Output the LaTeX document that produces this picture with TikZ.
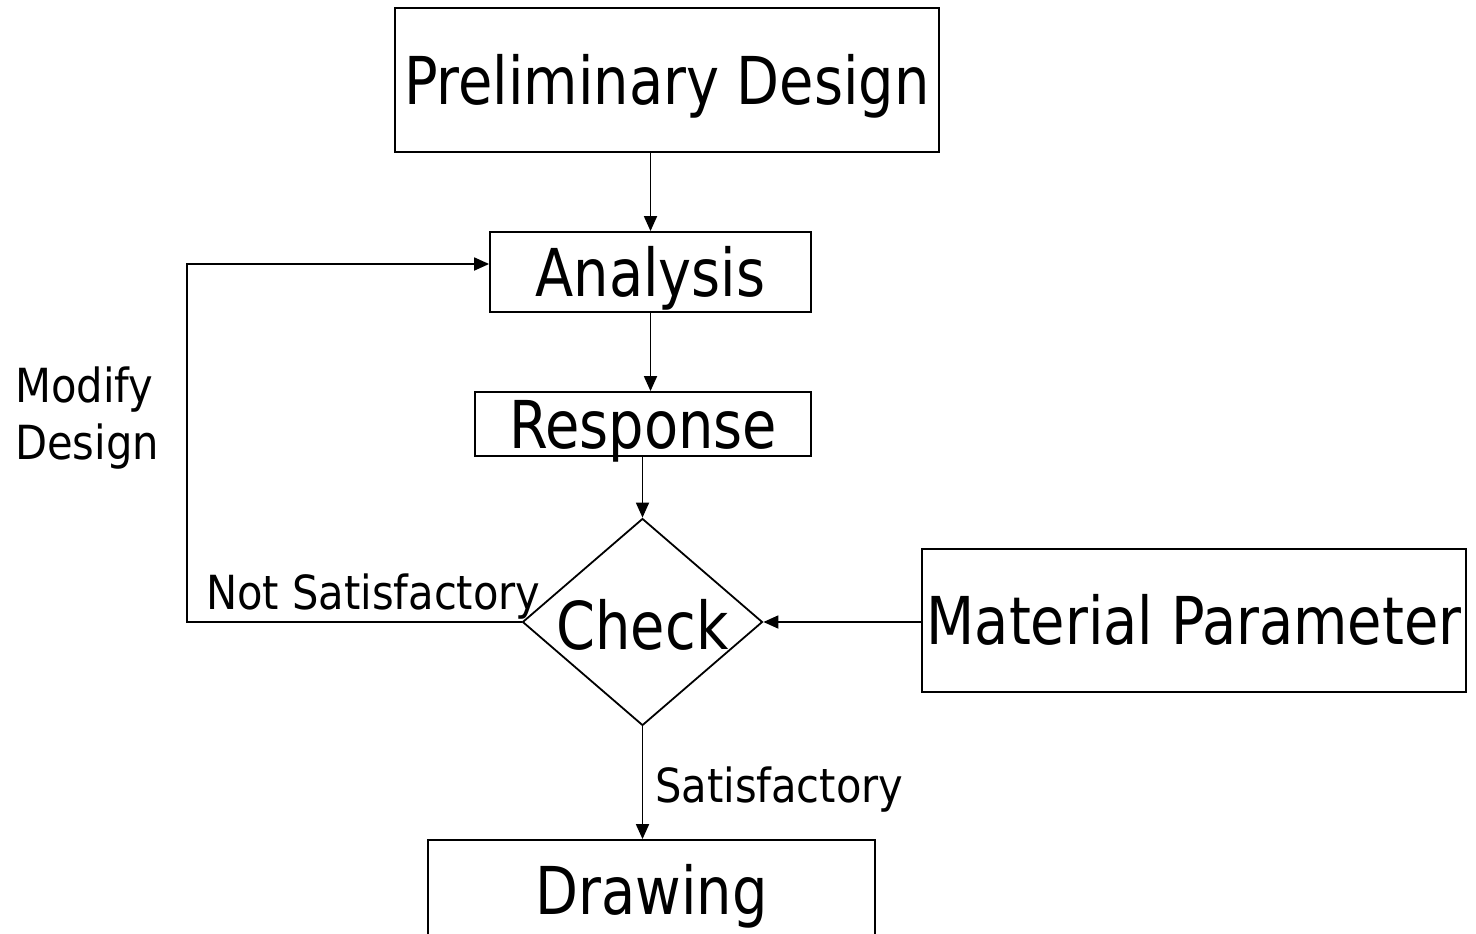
\documentclass[tikz,border=0pt]{standalone}
\usepackage{fontspec}
\setmainfont{DejaVu Sans Condensed}[FakeStretch=0.94]
\newfontfamily\notefont{DejaVu Sans Condensed}[FakeStretch=0.985]
\usetikzlibrary{arrows.meta,shapes.geometric}

% type sizes for the step boxes and the edge labels
\newcommand\steptext{\fontsize{66}{79}\selectfont}
\newcommand\notetext{\notefont\fontsize{47}{57}\selectfont}

\begin{document}
\begin{tikzpicture}[x=1pt,y=-1pt,
  stepbox/.style={draw,line width=1.8pt,inner sep=0pt,font=\steptext,
    text height=48pt,text depth=0pt},
  flow/.style={line width=1.8pt,-{Triangle[length=15pt,width=13pt]}},
  note/.style={inner sep=0pt,font=\notetext}]

\clip (0,0) rectangle (1476,934);

% process steps
\node[stepbox,minimum width=544pt,minimum height=144pt] (pd) at (667,80) {Preliminary Design};
\node[stepbox,minimum width=321pt,minimum height=80pt] (an) at (650.5,272) {Analysis};
\node[stepbox,minimum width=336pt,minimum height=64pt] (rs) at (643,424) {Response};
\node[diamond,draw,line width=1.8pt,inner sep=0pt,minimum width=240pt,minimum height=207pt] (ck) at (642.5,622) {};
\node[inner sep=0pt,font=\steptext,text height=48pt,text depth=0pt] (cktxt) at ([yshift=-3pt]ck.center) {Check};
\node[stepbox,minimum width=544pt,minimum height=143pt] (mp) at (1194,620.5) {Material Parameter};
\node[stepbox,minimum width=447pt,minimum height=100pt] (dr) at (651.5,890) {Drawing};

% main flow
\draw[flow] (an.north |- pd.south) -- (an.north);
\draw[flow] (an.south) -- (an.south |- rs.north);
\draw[flow] (ck.north |- rs.south) -- (ck.north);
\draw[flow] (mp.west |- ck.east) -- (ck.east);
\draw[flow] (ck.south) -- (ck.south |- dr.north);

% feedback loop back to the analysis
\coordinate (lp) at (187,620);
\draw[flow] (ck.west) -- (ck.west -| lp) |- ([yshift=8pt]an.west);

% edge labels
\node[note,anchor=base west] (ns) at (206,609) {Not Satisfactory};
\node[note,anchor=west,align=left] (md) at (15,418) {Modify\\Design};
\node[note,anchor=base west] (sf) at (655,802) {Satisfactory};
\end{tikzpicture}
\end{document}
